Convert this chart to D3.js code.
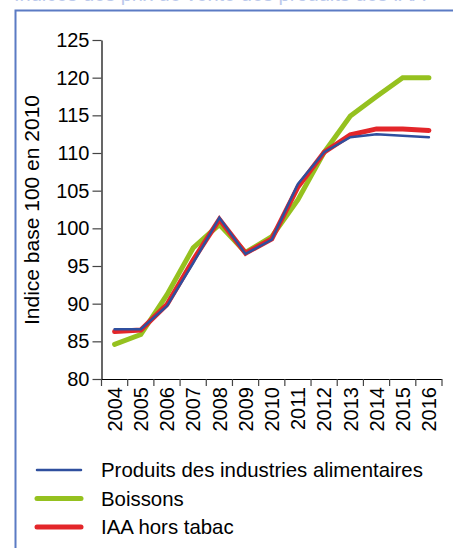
<!DOCTYPE html>
<html>
<head>
<meta charset="utf-8">
<script src="https://cdn.jsdelivr.net/npm/d3@7"></script>
<style>
  html, body { margin: 0; padding: 0; background: #fff; }
  svg { display: block; font-family: "Liberation Sans", Arial, sans-serif; }
</style>
</head>
<body>
<svg id="chart" width="453" height="548"></svg>
<script>
// Years on the horizontal axis
const years = ["2004","2005","2006","2007","2008","2009","2010","2011","2012","2013","2014","2015","2016"];

// Price indices, base 100 in 2010
const produitsIAA = [86.6, 86.6, 89.7, 95.4, 101.4, 96.6, 98.5, 105.9, 110.1, 112.1, 112.5, 112.3, 112.1];
const boissons    = [84.6, 85.9, 91.2, 97.4, 100.5, 96.8, 98.9, 103.8, 110.1, 114.9, 117.5, 120.0, 120.0];
const iaaHorsTabac = [86.3, 86.5, 89.9, 95.8, 101.2, 96.7, 98.6, 105.5, 110.1, 112.4, 113.2, 113.2, 113.0];

const yTicks = [80, 85, 90, 95, 100, 105, 110, 115, 120, 125];

const series = [
  { name: "Boissons", values: boissons, color: "#95c11f", width: 5 },
  { name: "IAA hors tabac", values: iaaHorsTabac, color: "#e3262a", width: 5 },
  { name: "Produits des industries alimentaires", values: produitsIAA, color: "#2f4f9e", width: 2.5 }
];
const legendOrder = [series[2], series[0], series[1]];

const svg = d3.select("#chart");

// Frame around the figure, with the caption line running above it
svg.append("text")
  .attr("x", 14).attr("y", 1)
  .attr("font-size", 20).attr("fill", "#bccaec")
  .text("Indices des prix de vente des produits des IAA");
svg.append("path")
  .attr("d", "M15.5,548 V10.5 H453")
  .attr("fill", "none").attr("stroke", "#5b7bc4").attr("stroke-width", 2);

const x = d3.scaleBand().domain(years).range([101.5, 442]).padding(0);
const y = d3.scaleLinear().domain([80, 125]).range([379, 40]);
const cx = d => x(d) + x.bandwidth() / 2;

// Y axis
const yAxis = svg.append("g")
  .attr("transform", "translate(101.5,0)")
  .call(d3.axisLeft(y).tickValues(yTicks).tickSize(9).tickPadding(3).tickSizeOuter(0));
yAxis.select(".domain").attr("stroke", "#000").attr("stroke-width", 1.2);
yAxis.selectAll(".tick line").attr("stroke", "#444").attr("stroke-width", 1.2);
yAxis.selectAll(".tick text")
  .attr("font-size", 20).attr("fill", "#000")
  .attr("font-family", "Liberation Sans, Arial, sans-serif");

// X axis: baseline, boundary ticks, rotated year labels
const xAxis = svg.append("g");
xAxis.append("line")
  .attr("x1", x.range()[0]).attr("x2", x.range()[1])
  .attr("y1", y(80) + 0.5).attr("y2", y(80) + 0.5)
  .attr("stroke", "#000").attr("stroke-width", 1.2);
const bounds = years.map(d => x(d)).concat([x.range()[1]]);
xAxis.selectAll("line.tk").data(bounds).join("line")
  .attr("class", "tk")
  .attr("x1", d => d).attr("x2", d => d)
  .attr("y1", y(80)).attr("y2", y(80) + 7)
  .attr("stroke", "#444").attr("stroke-width", 1.2);
xAxis.selectAll("text").data(years).join("text")
  .attr("transform", d => `translate(${cx(d)},387) rotate(-90)`)
  .attr("text-anchor", "end")
  .attr("dy", "0.36em")
  .attr("font-size", 20)
  .attr("fill", "#000")
  .text(d => d);

// Y axis title
svg.append("text")
  .attr("transform", "translate(39,210) rotate(-90)")
  .attr("text-anchor", "middle")
  .attr("font-size", 21)
  .attr("fill", "#000")
  .text("Indice base 100 en 2010");

// Series lines
const line = d3.line()
  .x((v, i) => cx(years[i]))
  .y(v => y(v));
svg.append("g").selectAll("path").data(series).join("path")
  .attr("d", s => line(s.values))
  .attr("fill", "none")
  .attr("stroke", s => s.color)
  .attr("stroke-width", s => s.width)
  .attr("stroke-linejoin", "miter")
  .attr("stroke-linecap", "round");

// Legend
const legend = svg.append("g");
const lg = legend.selectAll("g").data(legendOrder).join("g")
  .attr("transform", (d, i) => `translate(0,${470 + i * 28.5})`);
lg.append("line")
  .attr("x1", 37).attr("x2", 81)
  .attr("stroke", d => d.color)
  .attr("stroke-width", d => d.width)
  .attr("stroke-linecap", "round");
lg.append("text")
  .attr("x", 101).attr("y", 0)
  .attr("dy", "0.35em")
  .attr("font-size", 20.4)
  .attr("fill", "#000")
  .text(d => d.name);
</script>
</body>
</html>
